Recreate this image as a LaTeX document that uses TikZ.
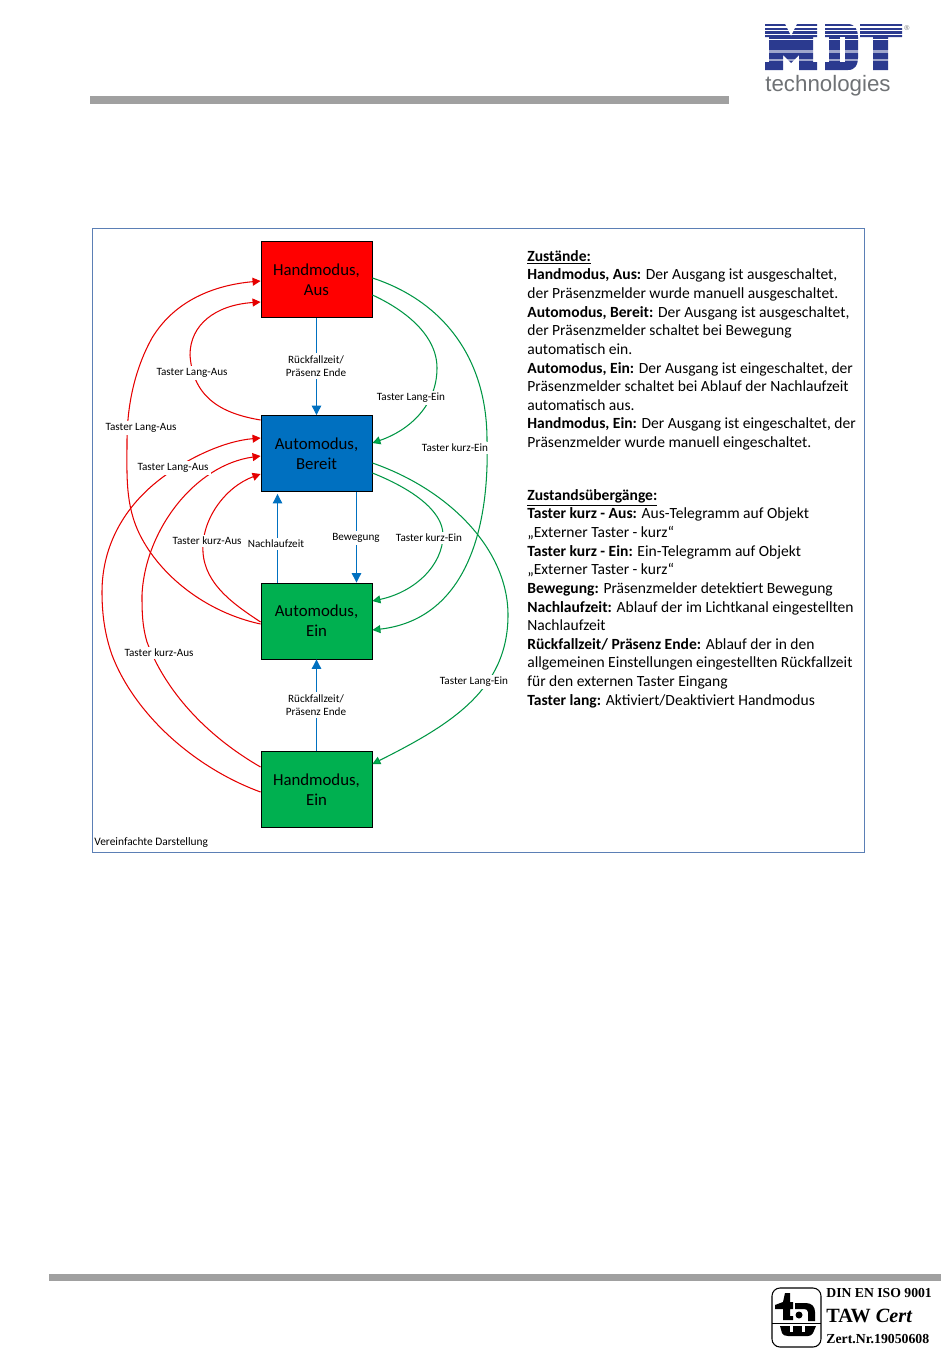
\documentclass[tikz,border=0pt]{standalone}
\usepackage{fontspec}
\setmainfont{Carlito}
\newfontfamily\logosans{Liberation Sans}
\newfontfamily\certserif{Liberation Serif}
\usepackage{xcolor}
\usepackage{tikz}
\usetikzlibrary{arrows.meta}
\definecolor{mdtblue}{HTML}{2B3A8F}
\definecolor{mdtgray}{HTML}{6F7275}
\definecolor{barGray}{HTML}{A0A0A0}
\definecolor{frameBlue}{HTML}{5B7FB5}
\definecolor{stateRed}{HTML}{FF0000}
\definecolor{stateBlue}{HTML}{0070C0}
\definecolor{stateGreen}{HTML}{00B050}
\tikzset{
  state/.style={draw=black, line width=0.5pt, minimum width=22.2mm, minimum height=15.2mm, inner sep=0pt,
    align=center, font=\fontsize{9.55}{11.4}\selectfont},
  lbl/.style={fill=white, inner sep=1.2pt, align=center, font=\fontsize{6.35}{7.4}\selectfont},
  redline/.style={draw=stateRed!90!black, line width=0.6pt, -{Triangle[length=1.6mm, width=1.6mm]}},
  greenline/.style={draw=stateGreen!85!black, line width=0.6pt, -{Triangle[length=1.6mm, width=1.6mm, fill=stateGreen]}},
  blueline/.style={draw=stateBlue, line width=0.6pt, -{Triangle[length=1.9mm, width=1.9mm]}},
  infotext/.style={anchor=north west, inner sep=0pt, align=left, font=\fontsize{8.85}{10.6}\selectfont},
}
\begin{document}
\begin{tikzpicture}[x=0.02cm, y=-0.02cm]
  \useasboundingbox (0,0) rectangle (950,1370);

  \fill[barGray] (90,96) rectangle (729,104);
  \fill[barGray] (49,1274) rectangle (941,1281);

  \fill[mdtblue] (765,24) -- (785,24) -- (791,36) -- (797,24) -- (817,24) -- (817,37) -- (813,37) -- (813,62)
    -- (817,62) -- (817,70) -- (799,70) -- (799,55) -- (791,63) -- (783,55) -- (783,70) -- (765,70)
    -- (765,62) -- (769,62) -- (769,37) -- (765,37) -- cycle;
  \fill[mdtblue] (825,24) -- (848,24) .. controls (855,24) and (858,30) .. (858,37) -- (858,58)
    .. controls (858,65) and (855,70) .. (848,70) -- (825,70) -- (825,62) -- (829,62) -- (829,37) -- (825,37) -- cycle;
  \fill[white] (840,37) rectangle (845,62);
  \fill[mdtblue] (860,24) -- (902,24) -- (902,37) -- (888,37) -- (888,70) -- (873,70) -- (873,37) -- (860,37) -- cycle;
  \foreach \ya/\yb in {26/27.5, 29.5/31, 33.5/35, 38.5/40} {
    \fill[white] (760,\ya) rectangle (904,\yb);
  }
  \foreach \ya/\yb in {50/53, 59/61} {
    \fill[white, opacity=0.55] (760,\ya) rectangle (904,\yb);
  }
  \node[font=\fontsize{4}{4}\logosans, text=mdtgray, inner sep=0pt] (reg) at (907,28) {®};
  \node[anchor=west, inner sep=0pt, text=mdtgray, font=\fontsize{12.7}{14}\logosans] (tech) at (765,86) {technologies};

  \node[draw=frameBlue, line width=0.6pt, minimum width=154.5mm, minimum height=124.9mm, inner sep=0pt] (frame) at (478.3,540.3) {};
  \node[anchor=west, inner sep=0pt, font=\fontsize{6.5}{7.4}\selectfont] (note) at (94,843) {Vereinfachte Darstellung};

  \node[state, fill=stateRed] (ha) at (316.5,279.5) {Handmodus,\\Aus};
  \node[state, fill=stateBlue] (ab) at (316.5,453.5) {Automodus,\\Bereit};
  \node[state, fill=stateGreen] (ae) at (316.5,621) {Automodus,\\Ein};
  \node[state, fill=stateGreen] (he) at (316.5,789.5) {Handmodus,\\Ein};

  \draw[blueline] (ha.south) -- (ab.north);
  \draw[blueline] ([xshift=8mm]ab.south) -- ([xshift=8mm]ae.north);
  \draw[blueline] ([xshift=-7.8mm]ae.north) -- ([xshift=-7.8mm, yshift=-0.4mm]ab.south);
  \draw[blueline] (he.north) -- (ae.south);

  \draw[redline] ([yshift=-0.6mm]ae.west) .. controls (205,612) and (160,575) .. (140,535)
    .. controls (125,505) and (127,475) .. (127,442)
    .. controls (127,400) and (137,365) .. (152,338)
    .. controls (175,300) and (215,285) .. ([yshift=-0.3mm]ha.west);
  \draw[redline] ([yshift=6.7mm]ab.west) .. controls (225,414) and (193,400) .. (190,355)
    .. controls (190,325) and (215,305) .. ([yshift=-4.5mm]ha.west);
  \draw[redline] ([yshift=-0.5mm]he.west) .. controls (195,768) and (135,715) .. (112,655)
    .. controls (105,635) and (102,615) .. (102,592)
    .. controls (102,545) and (125,505) .. (163,477)
    .. controls (190,457) and (225,441) .. ([yshift=3.1mm]ab.west);
  \draw[redline] ([yshift=4.5mm]he.west) .. controls (205,735) and (165,690) .. (147,642)
    .. controls (142,625) and (142,610) .. (142,595)
    .. controls (145,530) and (195,465) .. ([yshift=-0.5mm]ab.west);
  \draw[redline] ([yshift=-0.2mm]ae.west) .. controls (235,605) and (205,585) .. (203,552)
    .. controls (201,520) and (225,487) .. ([yshift=-4.1mm]ab.west);

  \draw[greenline] ([yshift=-3.1mm]ha.east) .. controls (405,310) and (437,335) .. (437,368)
    .. controls (437,405) and (410,430) .. ([yshift=2.1mm]ab.east);
  \draw[greenline] ([yshift=0.3mm]ha.east) .. controls (440,300) and (487,355) .. (487,440)
    .. controls (490,540) and (460,620) .. ([yshift=-1.8mm]ae.east);
  \draw[greenline] ([yshift=-3.9mm]ab.east) .. controls (410,488) and (443,510) .. (443,535)
    .. controls (443,565) and (415,592) .. ([yshift=4mm]ae.east);
  \draw[greenline] ([yshift=-1.9mm]ab.east) .. controls (450,490) and (508,550) .. (508,615)
    .. controls (508,690) and (450,725) .. ([yshift=5.1mm]he.east);

  \node[lbl] (fall1) at (316,366) {Rückfallzeit/\\Präsenz Ende};
  \node[lbl] (fall2) at (316,705) {Rückfallzeit/\\Präsenz Ende};
  \node[lbl] (nach) at (276,544) {Nachlaufzeit};
  \node[lbl] (beweg) at (356,538) {Bewegung};
  \node[lbl] (la1) at (192,373) {Taster Lang-Aus};
  \node[lbl] (la2) at (141,428) {Taster Lang-Aus};
  \node[lbl] (la3) at (173,468) {Taster Lang-Aus};
  \node[lbl] (ka1) at (207,541) {Taster kurz-Aus};
  \node[lbl] (ka2) at (159,653) {Taster kurz-Aus};
  \node[lbl] (le1) at (411,398) {Taster Lang-Ein};
  \node[lbl] (le2) at (474,682) {Taster Lang-Ein};
  \node[lbl] (ke1) at (455,448) {Taster kurz-Ein};
  \node[lbl] (ke2) at (429,538) {Taster kurz-Ein};

  \node[infotext] (zust) at (527,250) {\textbf{\underline{Zustände:}}\\
    \textbf{Handmodus, Aus:} Der Ausgang ist ausgeschaltet,\\
    der Präsenzmelder wurde manuell ausgeschaltet.\\
    \textbf{Automodus, Bereit:} Der Ausgang ist ausgeschaltet,\\
    der Präsenzmelder schaltet bei Bewegung\\
    automatisch ein.\\
    \textbf{Automodus, Ein:} Der Ausgang ist eingeschaltet, der\\
    Präsenzmelder schaltet bei Ablauf der Nachlaufzeit\\
    automatisch aus.\\
    \textbf{Handmodus, Ein:} Der Ausgang ist eingeschaltet, der\\
    Präsenzmelder wurde manuell eingeschaltet.};
  \node[infotext] (trans) at (527,489) {\textbf{\underline{Zustandsübergänge:}}\\
    \textbf{Taster kurz - Aus:} Aus-Telegramm auf Objekt\\
    „Externer Taster - kurz“\\
    \textbf{Taster kurz - Ein:} Ein-Telegramm auf Objekt\\
    „Externer Taster - kurz“\\
    \textbf{Bewegung:} Präsenzmelder detektiert Bewegung\\
    \textbf{Nachlaufzeit:} Ablauf der im Lichtkanal eingestellten\\
    Nachlaufzeit\\
    \textbf{Rückfallzeit/ Präsenz Ende:} Ablauf der in den\\
    allgemeinen Einstellungen eingestellten Rückfallzeit\\
    für den externen Taster Eingang\\
    \textbf{Taster lang:} Aktiviert/Deaktiviert Handmodus};

  \draw[line width=0.6pt, rounded corners=1.6mm] (772,1288) rectangle (821,1347);
  \draw[line width=0.4pt] (772,1323) -- (821,1323);
  \fill[black] (785,1293) -- (790,1293) -- (790,1302) -- (793,1302) -- (793,1309) -- (790,1309) -- (790,1316)
    -- (793,1316) -- (793,1320) -- (783,1320) -- (783,1309) -- (775,1309) -- (775,1305) -- (783,1302) -- cycle;
  \fill[black] (795,1303) -- (806,1303) .. controls (812,1303) and (815,1307) .. (815,1312) -- (815,1321)
    -- (808,1321) -- (808,1312) .. controls (808,1310) and (806,1309) .. (804,1309) -- (795,1309) -- cycle;
  \fill[black] (799,1315) circle[radius=3.5];
  \fill[black] (780,1326) -- (816,1326) -- (813,1333) .. controls (812,1335) and (810,1336) .. (808,1336)
    -- (788,1336) .. controls (785,1336) and (783,1335) .. (782,1333) -- cycle;
  \fill[white] (790,1326) rectangle (793,1332);
  \fill[white] (802,1326) rectangle (805,1332);

  \node[anchor=west, inner sep=0pt, font=\fontsize{7.8}{8}\certserif\bfseries] (din) at (826,1293) {DIN EN ISO 9001};
  \node[anchor=west, inner sep=0pt, font=\fontsize{11.5}{12}\certserif\bfseries] (taw) at (826,1316) {TAW \textit{Cert}};
  \node[anchor=west, inner sep=0pt, font=\fontsize{7.85}{8}\certserif\bfseries] (zert) at (826,1339) {Zert.Nr.19050608};
\end{tikzpicture}
\end{document}
